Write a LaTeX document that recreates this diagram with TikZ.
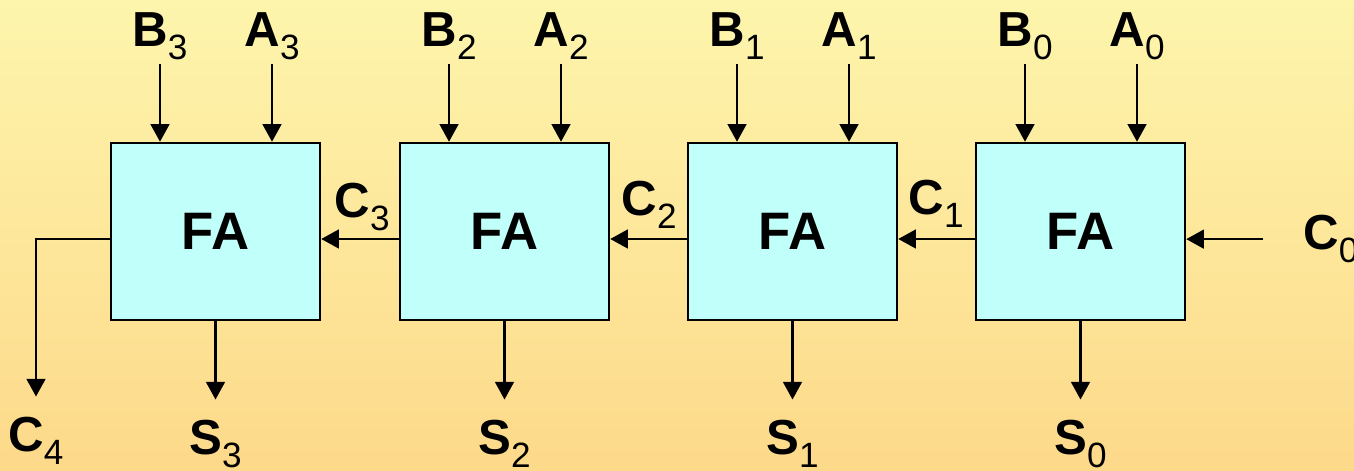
\documentclass[tikz,border=0pt]{standalone}
\usepackage{fontspec}
\setmainfont{Liberation Sans}
\usetikzlibrary{arrows.meta}
\definecolor{bgtop}{RGB}{253,245,172}
\definecolor{bgbot}{RGB}{253,217,138}
\definecolor{fafill}{RGB}{192,255,250}
% bold letter with a lowered index
\newcommand\pin[2]{\textbf{#1}\raisebox{-3.5pt}{\fontsize{10}{12}\selectfont #2}}
\begin{document}
\begin{tikzpicture}[
  fa/.style={draw, fill=fafill, line width=0.7pt, minimum width=2.09cm,
    minimum height=1.77cm, font=\fontsize{15}{18}\selectfont\bfseries},
  sig/.style={line width=0.7pt, -{Triangle[length=5pt,width=5.3pt]}},
  lbl/.style={inner sep=1pt, font=\fontsize{14}{17}\selectfont},
  outlbl/.style={lbl, outer sep=5pt}]
\shade[top color=bgtop, bottom color=bgbot] (0,0) rectangle (13.54,4.71);
\useasboundingbox (0,0) rectangle (13.54,4.71);

% the four full adders
\node[fa] (fa3) at (2.155,2.395) {FA};
\node[fa] (fa2) at (5.045,2.395) {FA};
\node[fa] (fa1) at (7.925,2.395) {FA};
\node[fa] (fa0) at (10.805,2.395) {FA};

% operand inputs
\node[lbl, anchor=base] (b3) at (1.60,4.24) {\pin{B}{3}};
\node[lbl, anchor=base] (a3) at (2.72,4.24) {\pin{A}{3}};
\node[lbl, anchor=base] (b2) at (4.49,4.24) {\pin{B}{2}};
\node[lbl, anchor=base] (a2) at (5.61,4.24) {\pin{A}{2}};
\node[lbl, anchor=base] (b1) at (7.37,4.24) {\pin{B}{1}};
\node[lbl, anchor=base] (a1) at (8.49,4.24) {\pin{A}{1}};
\node[lbl, anchor=base] (b0) at (10.25,4.24) {\pin{B}{0}};
\node[lbl, anchor=base] (a0) at (11.37,4.24) {\pin{A}{0}};
\draw[sig] (b3.south) -- (b3.south |- fa3.north);
\draw[sig] (a3.south) -- (a3.south |- fa3.north);
\draw[sig] (b2.south) -- (b2.south |- fa2.north);
\draw[sig] (a2.south) -- (a2.south |- fa2.north);
\draw[sig] (b1.south) -- (b1.south |- fa1.north);
\draw[sig] (a1.south) -- (a1.south |- fa1.north);
\draw[sig] (b0.south) -- (b0.south |- fa0.north);
\draw[sig] (a0.south) -- (a0.south |- fa0.north);

% carry chain
\node[lbl, anchor=base west, inner xsep=11.3pt] (c0) at (12.63,2.21) {\pin{C}{0}};
\draw[sig] (c0.west) -- (c0.west -| fa0.east);
\draw[sig] ([yshift=-0.075cm]fa0.west) -- ([yshift=-0.075cm]fa1.east);
\draw[sig] ([yshift=-0.075cm]fa1.west) -- ([yshift=-0.075cm]fa2.east);
\draw[sig] ([yshift=-0.075cm]fa2.west) -- ([yshift=-0.075cm]fa3.east);
\node[lbl, anchor=base] (c1) at (9.36,2.56) {\pin{C}{1}};
\node[lbl, anchor=base] (c2) at (6.49,2.55) {\pin{C}{2}};
\node[lbl, anchor=base] (c3) at (3.62,2.53) {\pin{C}{3}};
\node[outlbl, anchor=base] (c4) at (0.36,0.19) {\pin{C}{4}};
\draw[sig] ([yshift=-0.075cm]fa3.west) -| (c4.north);

% sum outputs
\node[outlbl, anchor=base] (s3) at (2.155,0.16) {\pin{S}{3}};
\node[outlbl, anchor=base] (s2) at (5.045,0.16) {\pin{S}{2}};
\node[outlbl, anchor=base] (s1) at (7.925,0.16) {\pin{S}{1}};
\node[outlbl, anchor=base] (s0) at (10.805,0.16) {\pin{S}{0}};
\draw[sig] (fa3.south) -- (s3.north);
\draw[sig] (fa2.south) -- (s2.north);
\draw[sig] (fa1.south) -- (s1.north);
\draw[sig] (fa0.south) -- (s0.north);
\end{tikzpicture}
\end{document}
